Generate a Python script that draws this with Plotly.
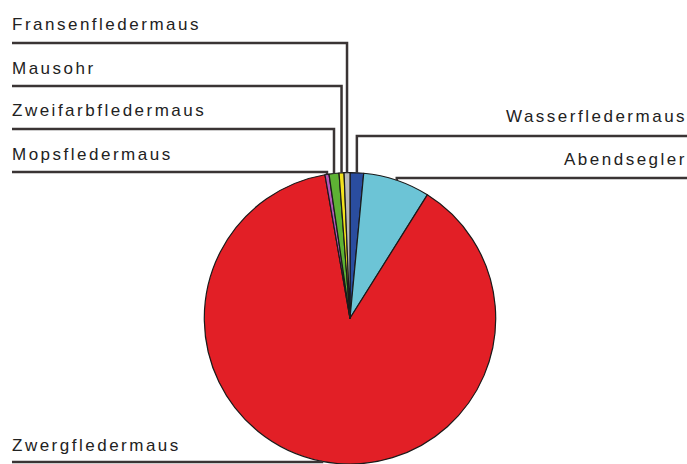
import math
import plotly.graph_objects as go

# ---- data ----
species = ["Wasserfledermaus", "Abendsegler", "Zwergfledermaus", "Mopsfledermaus",
           "Zweifarbfledermaus", "Mausohr", "Fransenfledermaus"]
shares = [1.5, 7.4, 88.3, 0.45, 1.1, 0.55, 0.65]
colors = ["#2a4d9f", "#6cc4d6", "#e21f26", "#b457b5", "#5eb234", "#f2e21c", "#b9b9b9"]

# ---- layout constants (pixels) ----
W, H = 687, 464
CX, CY, R_WANT = 350, 318.3, 147
LEFT_X, RIGHT_X = 12, 687
# label: (side, text centre y, underline y)
label_pos = {
    "Fransenfledermaus": ("left", 24.5, 43),
    "Mausohr": ("left", 68, 86),
    "Zweifarbfledermaus": ("left", 110.5, 129),
    "Mopsfledermaus": ("left", 154.5, 172),
    "Wasserfledermaus": ("right", 116, 136),
    "Abendsegler": ("right", 159.5, 178),
    "Zwergfledermaus": ("left", 445.5, 462),
}
LINE_COLOR = "#3a3434"
TEXT_COLOR = "#222222"

cy_bottom = H - CY
half = min(R_WANT, cy_bottom)
R = min(R_WANT, half)
dom_x = [(CX - R_WANT) / W, (CX + R_WANT) / W]
dom_y = [(cy_bottom - half) / H, (cy_bottom + half) / H]


def px(x):
    return x / W


def py(y):
    return 1 - y / H


fig = go.Figure(go.Pie(
    labels=species, values=shares, sort=False, direction="clockwise", rotation=0,
    marker=dict(colors=colors, line=dict(color="#1a1a1a", width=1.2)),
    textinfo="none", hoverinfo="skip", showlegend=False, domain=dict(x=dom_x, y=dom_y),
))

total = sum(shares)
cum = 0.0
shapes, annotations = [], []
for name, v in zip(species, shares):
    mid = (cum + v / 2) / total * 2 * math.pi
    cum += v
    ex = CX + R * math.sin(mid)
    ey = CY - R * math.cos(mid)
    side, ty, ly = label_pos[name]
    sx = LEFT_X if side == "left" else RIGHT_X
    path = f"M {px(sx)},{py(ly)} L {px(ex)},{py(ly)} L {px(ex)},{py(ey)}"
    shapes.append(dict(type="path", xref="paper", yref="paper", path=path,
                       line=dict(color=LINE_COLOR, width=2.5)))
    annotations.append(dict(
        text=f'<span style="letter-spacing:2.5px">{name}</span>',
        xref="paper", yref="paper",
        x=px(LEFT_X - 2) if side == "left" else px(RIGHT_X + 2),
        y=py(ty), xanchor=side, yanchor="middle", showarrow=False,
        font=dict(family="Liberation Sans, Arial, sans-serif", size=17, color=TEXT_COLOR),
    ))

fig.update_layout(
    width=W, height=H, margin=dict(l=0, r=0, t=0, b=0),
    paper_bgcolor="white", plot_bgcolor="white",
    shapes=shapes, annotations=annotations,
)
fig.write_html("out.html", config={"displayModeBar": False},
               post_script="document.body.style.margin='0px';"
                           "document.body.style.overflow='hidden';")
